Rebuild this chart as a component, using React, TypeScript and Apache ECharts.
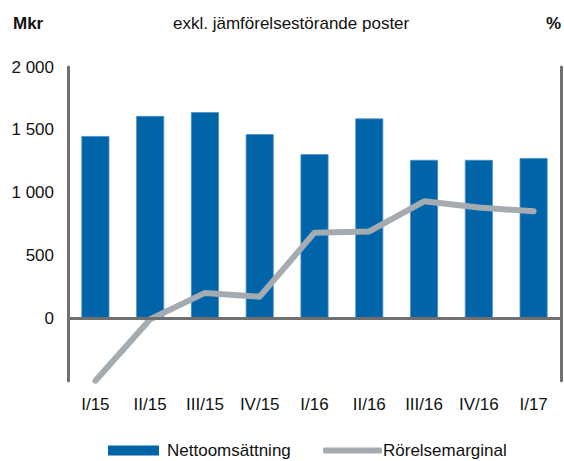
import React, { useEffect, useRef } from "react";
import * as echarts from "echarts";

const categories = ["I/15", "II/15", "III/15", "IV/15", "I/16", "II/16", "III/16", "IV/16", "I/17"];
const nettoomsattning = [1450, 1610, 1640, 1465, 1305, 1590, 1260, 1260, 1275];
const rorelsemarginal = [-5.0, -0.1, 2.0, 1.7, 6.8, 6.9, 9.3, 8.8, 8.5];
const leftTicks = { min: -500, max: 2000, interval: 500 };
const rightTicks = { min: -5, max: 20, interval: 5 };

const FONT = "'Liberation Sans', Arial, sans-serif";
const AXIS_GRAY = "#707070";
const LINE_GRAY = "#a4abb1";
const BAR_BLUE = "#0064a8";

function fmt(v: number): string {
  if (v < 0) return "";
  const s = String(v);
  return s.length > 3 ? s.slice(0, s.length - 3) + " " + s.slice(-3) : s;
}

export default function App() {
  const ref = useRef<HTMLDivElement>(null);
  useEffect(() => {
    if (!ref.current) return;
    const chart = echarts.init(ref.current, undefined, { renderer: "svg" });
    chart.setOption({
      animation: false,
      backgroundColor: "#ffffff",
      textStyle: { fontFamily: FONT },
      grid: { left: 68, right: 3, top: 67, bottom: 80.25, containLabel: false },
      graphic: [
        {
          type: "text",
          left: 13,
          top: 15,
          style: { text: "Mkr", font: `bold 17px ${FONT}`, fill: "#111" },
        },
        {
          type: "text",
          left: 173,
          top: 15,
          style: { text: "exkl. jämförelsestörande poster", font: `17px ${FONT}`, fill: "#111" },
        },
        {
          type: "text",
          left: 546,
          top: 15,
          style: { text: "%", font: `bold 17px ${FONT}`, fill: "#111" },
        },
      ],
      legend: [
        {
          data: [{ name: "Nettoomsättning", icon: "rect", itemStyle: { color: BAR_BLUE, borderWidth: 0 } }],
          left: 108,
          top: 442,
          padding: 0,
          itemWidth: 51,
          itemHeight: 10,
          textStyle: { fontSize: 17, color: "#111", fontFamily: FONT, padding: [0, 0, 0, 3] },
        },
        {
          data: [{ name: "Rörelsemarginal", icon: "roundRect", itemStyle: { color: LINE_GRAY } }],
          left: 323,
          top: 442,
          padding: 0,
          itemWidth: 59,
          itemHeight: 6,
          textStyle: { fontSize: 17, color: "#111", fontFamily: FONT, padding: [0, 0, 0, -4] },
        },
      ],
      xAxis: {
        type: "category",
        data: categories,
        axisLine: { show: false },
        axisTick: { show: false },
        axisLabel: { fontSize: 17, color: "#111", margin: 15, fontFamily: FONT },
        splitLine: { show: false },
      },
      yAxis: [
        {
          type: "value",
          min: leftTicks.min,
          max: leftTicks.max,
          interval: leftTicks.interval,
          axisLine: { show: true, lineStyle: { color: AXIS_GRAY, width: 3 } },
          axisTick: { show: false },
          splitLine: { show: false },
          axisLabel: { fontSize: 17, color: "#111", margin: 14, fontFamily: FONT, formatter: fmt },
        },
        {
          type: "value",
          min: rightTicks.min,
          max: rightTicks.max,
          interval: rightTicks.interval,
          position: "right",
          axisLine: { show: true, lineStyle: { color: AXIS_GRAY, width: 3 } },
          axisTick: { show: false },
          splitLine: { show: false },
          axisLabel: { show: false },
        },
      ],
      series: [
        {
          name: "Nettoomsättning",
          type: "bar",
          data: nettoomsattning,
          barWidth: 28,
          itemStyle: { color: BAR_BLUE, borderColor: "#4d8fc8", borderWidth: 0.8 },
          markLine: {
            silent: true,
            symbol: "none",
            label: { show: false },
            lineStyle: { color: AXIS_GRAY, width: 3, type: "solid" },
            data: [{ yAxis: 0 }],
          },
        },
        {
          name: "Rörelsemarginal",
          type: "line",
          yAxisIndex: 1,
          data: rorelsemarginal,
          symbol: "none",
          lineStyle: { color: LINE_GRAY, width: 6, cap: "round", join: "round" },
          itemStyle: { color: LINE_GRAY },
        },
      ],
    });
    return () => chart.dispose();
  }, []);
  return (
    <div
      ref={ref}
      style={{ position: "absolute", left: 0, top: 0, width: 564, height: 461 }}
    />
  );
}
